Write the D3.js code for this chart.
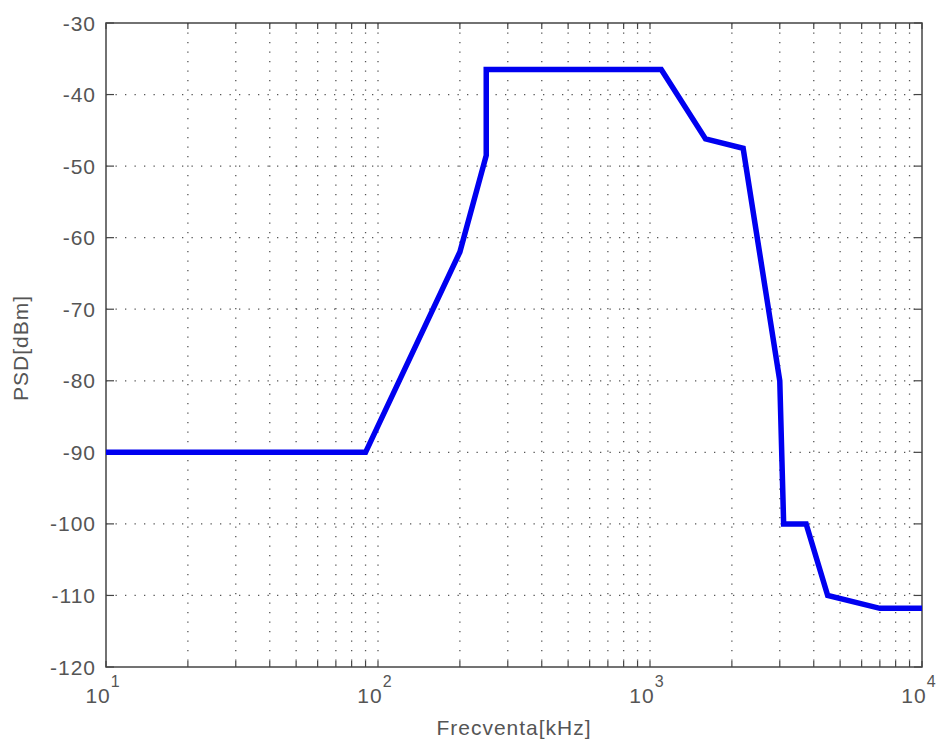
<!DOCTYPE html>
<html lang="en">

<head>
    <script src='https://d3js.org/d3.v7.min.js'></script>
</head>

<body style="margin:0;background:#fff">

    <style>
        svg text {
            fill: #555;
            font: 21px "Liberation Sans", Arial, sans-serif;
            letter-spacing: 1px;
        }
    </style>

    <script>
        // frequency [kHz] and PSD [dBm]
        let freq = [10, 90, 200, 250, 250, 1100, 1600, 2200, 3000, 3100, 3750, 4500, 7000, 10000];
        let psd = [-90, -90, -62, -48.5, -36.5, -36.5, -46.2, -47.5, -80, -100, -100, -110, -111.8, -111.8];

        let xTicks = [10, 100, 1000, 10000];
        let xTickExp = ['1', '2', '3', '4'];
        let yTicks = [-120, -110, -100, -90, -80, -70, -60, -50, -40, -30];

        var width = 942;
        var height = 742;
        var m = { left: 106, right: 20, top: 23, bottom: 75 };
        var w = width - m.left - m.right;
        var h = height - m.top - m.bottom;

        var svg = d3.select("body")
            .append("svg")
            .attr("width", width)
            .attr("height", height);

        var x = d3.scaleLog().domain([10, 10000]).range([0, w]);
        var y = d3.scaleLinear().domain([-120, -30]).range([h, 0]);

        var g = svg.append("g")
            .attr("transform", "translate(" + m.left + "," + m.top + ")");

        // minor + major log ticks
        var allX = [];
        for (var d = 10; d < 10000; d *= 10) {
            for (var k = 1; k < 10; k++) allX.push(d * k);
        }
        allX.push(10000);

        // dotted grid
        g.selectAll(".gx")
            .data(allX.filter(function(v) { return v > 10 && v < 10000; }))
            .enter()
            .append("line")
            .attr("x1", function(d) { return x(d); })
            .attr("x2", function(d) { return x(d); })
            .attr("y1", 0)
            .attr("y2", h)
            .attr("stroke", "#555")
            .attr("stroke-width", 1.3)
            .attr("stroke-dasharray", "1.3,8.2");

        g.selectAll(".gy")
            .data(yTicks.slice(1, -1))
            .enter()
            .append("line")
            .attr("x1", 0)
            .attr("x2", w)
            .attr("y1", function(d) { return y(d); })
            .attr("y2", function(d) { return y(d); })
            .attr("stroke", "#555")
            .attr("stroke-width", 1.3)
            .attr("stroke-dasharray", "1.3,8.2");

        // ticks inside, all four sides
        var tickLen = 6;
        allX.forEach(function(v) {
            g.append("line").attr("x1", x(v)).attr("x2", x(v)).attr("y1", h).attr("y2", h - tickLen)
                .attr("stroke", "#444").attr("stroke-width", 1.2);
            g.append("line").attr("x1", x(v)).attr("x2", x(v)).attr("y1", 0).attr("y2", tickLen)
                .attr("stroke", "#444").attr("stroke-width", 1.2);
        });
        yTicks.forEach(function(v) {
            g.append("line").attr("x1", 0).attr("x2", 8).attr("y1", y(v)).attr("y2", y(v))
                .attr("stroke", "#444").attr("stroke-width", 1.2);
            g.append("line").attr("x1", w).attr("x2", w - 8).attr("y1", y(v)).attr("y2", y(v))
                .attr("stroke", "#444").attr("stroke-width", 1.2);
        });

        // box
        g.append("rect")
            .attr("width", w)
            .attr("height", h)
            .attr("fill", "none")
            .attr("stroke", "#444")
            .attr("stroke-width", 1.5);

        // curve
        var line = d3.line()
            .x(function(d, i) { return x(freq[i]); })
            .y(function(d, i) { return y(psd[i]); });

        g.append("path")
            .datum(freq)
            .attr("d", line)
            .attr("fill", "none")
            .attr("stroke", "#0000f0")
            .attr("stroke-width", 5.5)
            .attr("stroke-linejoin", "miter");

        // y tick labels
        g.selectAll(".yl")
            .data(yTicks)
            .enter()
            .append("text")
            .attr("x", -10)
            .attr("y", function(d) { return y(d); })
            .attr("dy", "0.36em")
            .style("text-anchor", "end")
            .text(function(d) { return d; });

        // x tick labels 10^n
        var xl = g.selectAll(".xl")
            .data(xTicks)
            .enter()
            .append("text")
            .attr("x", function(d) { return x(d) - 3; })
            .attr("y", h + 36)
            .style("text-anchor", "middle");
        xl.append("tspan").text("10");
        xl.append("tspan")
            .attr("dy", "-16")
            .style("font-size", "16px")
            .text(function(d, i) { return xTickExp[i]; });

        // axis titles
        g.append("text")
            .attr("x", w / 2)
            .attr("y", h + 68)
            .style("text-anchor", "middle")
            .text("Frecventa[kHz]");

        g.append("text")
            .attr("transform", "translate(" + (-78) + "," + (h / 2 + 3) + ") rotate(-90)")
            .style("text-anchor", "middle")
            .text("PSD[dBm]");
    </script>
</body>

</html>
